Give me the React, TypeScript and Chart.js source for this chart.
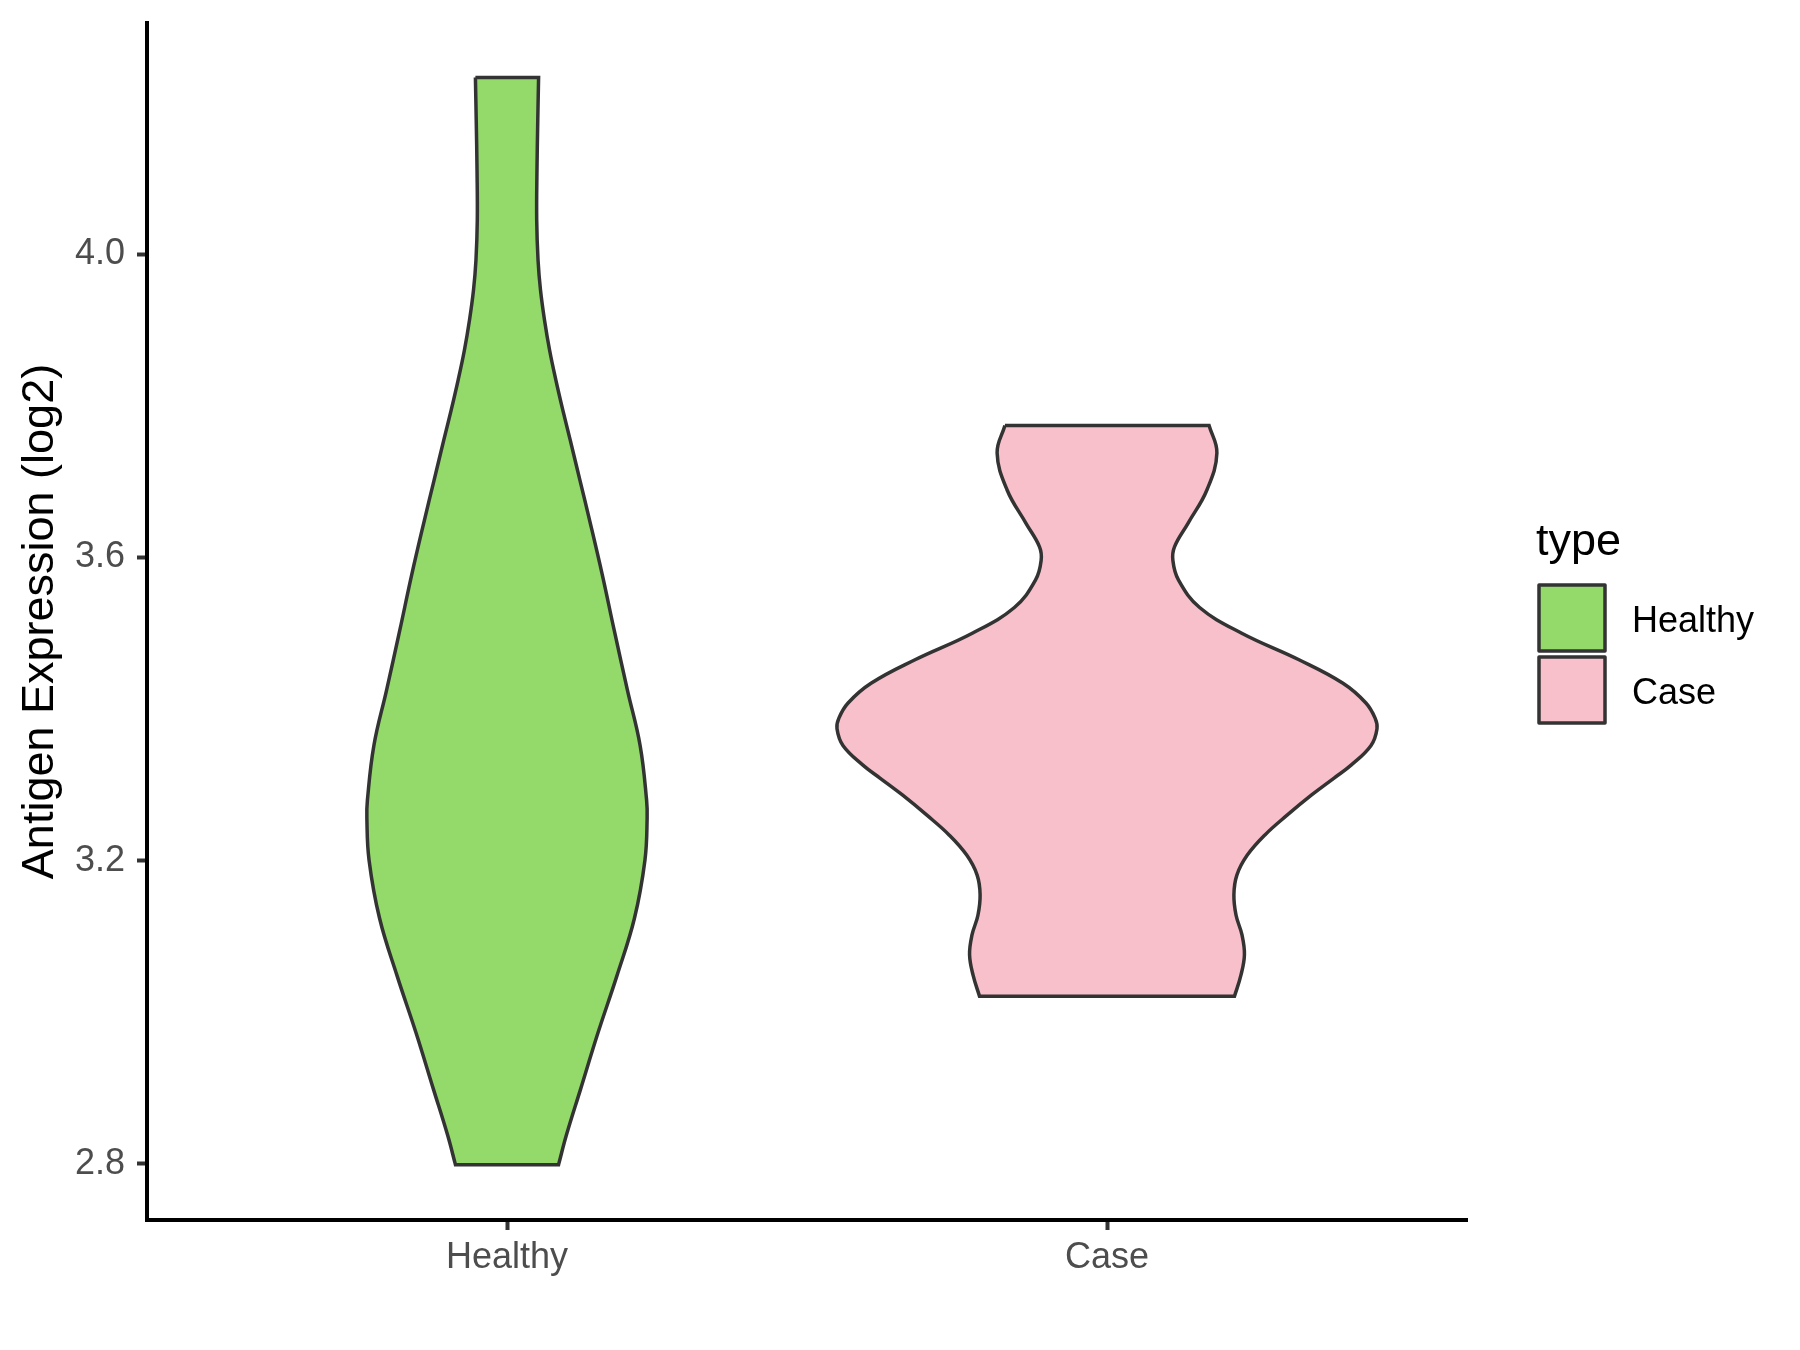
import React, { useEffect, useRef } from "react";
import { Chart, registerables } from "chart.js";

Chart.register(...registerables);

const categories = ["Healthy", "Case"];
const fillColors = ["#93DA6A", "#F8C0CB"];

// Healthy violin: expression values (top -> bottom) and relative density
const healthyY = [4.233, 4.177, 4.111, 4.045, 3.992, 3.953, 3.913, 3.873, 3.834, 3.794, 3.755, 3.702, 3.649, 3.577, 3.504, 3.425, 3.352, 3.28, 3.256, 3.201, 3.124, 3.048, 2.973, 2.898, 2.838, 2.799];
const healthyDensity = [0.117, 0.114, 0.111, 0.11, 0.115, 0.124, 0.139, 0.158, 0.181, 0.207, 0.234, 0.27, 0.306, 0.353, 0.397, 0.446, 0.493, 0.517, 0.519, 0.511, 0.472, 0.407, 0.337, 0.272, 0.22, 0.191];

// Case violin
const caseY = [3.774, 3.738, 3.689, 3.645, 3.614, 3.596, 3.57, 3.534, 3.5, 3.465, 3.434, 3.408, 3.388, 3.374, 3.352, 3.326, 3.309, 3.287, 3.26, 3.234, 3.207, 3.181, 3.155, 3.128, 3.102, 3.076, 3.049, 3.021];
const caseDensity = [0.378, 0.407, 0.37, 0.3, 0.25, 0.244, 0.265, 0.343, 0.499, 0.711, 0.874, 0.959, 0.993, 1.0, 0.978, 0.904, 0.841, 0.759, 0.667, 0.585, 0.519, 0.481, 0.47, 0.478, 0.5, 0.509, 0.496, 0.472];

const yTicks = [2.8, 3.2, 3.6, 4.0];

const FONT = '"Liberation Sans", Arial, Helvetica, sans-serif';
const HALF = 0.45;

function violinPoints(center: number, ys: number[], dens: number[]) {
  const n = ys.length;
  const left = ys.map((v, i) => ({ x: center - dens[i] * HALF, y: v }));
  const right = ys.map((v, i) => ({ x: center + dens[i] * HALF, y: v }));
  const pts: { x: number; y: number }[] = [];
  left.forEach((p) => pts.push(p));
  pts.push({ ...left[n - 1] });
  pts.push(right[n - 1]);
  pts.push({ ...right[n - 1] });
  for (let i = n - 2; i >= 0; i--) pts.push(right[i]);
  pts.push({ ...right[0] });
  pts.push({ ...left[0] });
  return pts;
}

const legendPlugin = {
  id: "customLegend",
  afterDraw(chart: any) {
    const ctx = chart.ctx;
    ctx.save();
    ctx.fillStyle = "#000000";
    ctx.font = `45px ${FONT}`;
    ctx.textBaseline = "alphabetic";
    ctx.textAlign = "left";
    ctx.fillText("type", 1536, 555);
    categories.forEach((name, i) => {
      const y0 = 585 + i * 72;
      ctx.fillStyle = fillColors[i];
      ctx.fillRect(1539, y0, 66, 66);
      ctx.strokeStyle = "#333333";
      ctx.lineWidth = 3.5;
      ctx.lineJoin = "round";
      ctx.strokeRect(1539, y0, 66, 66);
      ctx.fillStyle = "#000000";
      ctx.font = `36px ${FONT}`;
      ctx.textBaseline = "middle";
      ctx.fillText(name, 1632, y0 + 37);
    });
    ctx.restore();
  },
};

export default function App() {
  const ref = useRef<HTMLCanvasElement | null>(null);
  useEffect(() => {
    if (!ref.current) return;
    const mk = (i: number, ys: number[], ds: number[]) =>
      ({
        label: categories[i],
        data: violinPoints(i + 1, ys, ds),
        borderColor: "#333333",
        backgroundColor: fillColors[i],
        borderWidth: 3.5,
        fill: "shape",
        tension: 0.4,
        pointRadius: 0,
        pointHoverRadius: 0,
      } as any);
    const chart = new Chart(ref.current, {
      type: "line",
      data: {
        datasets: [mk(0, healthyY, healthyDensity), mk(1, caseY, caseDensity)],
      },
      options: {
        responsive: false,
        animation: false,
        devicePixelRatio: 1,
        layout: { padding: { left: 0, top: 23, right: 333, bottom: 0 } },
        plugins: {
          legend: { display: false },
          tooltip: { enabled: false },
        },
        scales: {
          x: {
            type: "linear",
            min: 0.4,
            max: 2.6,
            afterBuildTicks: (axis: any) => {
              axis.ticks = categories.map((_, i) => ({ value: i + 1 }));
            },
            afterFit: (scale: any) => {
              scale.height = 130;
              scale.paddingLeft = 0;
              scale.paddingRight = 0;
            },
            ticks: {
              callback: (v: any) => categories[Math.round(Number(v)) - 1] ?? "",
              color: "#4D4D4D",
              font: { family: FONT, size: 36 },
              padding: 6,
              maxRotation: 0,
              autoSkip: false,
            },
            grid: {
              drawOnChartArea: false,
              drawTicks: true,
              tickLength: 10,
              tickWidth: 4,
              tickColor: "#333333",
            },
            border: { display: true, color: "#000000", width: 4 },
          },
          y: {
            type: "linear",
            min: 2.726,
            max: 4.305,
            afterBuildTicks: (axis: any) => {
              axis.ticks = yTicks.map((v) => ({ value: v }));
            },
            afterFit: (scale: any) => {
              scale.width = 147;
              scale.paddingTop = 0;
              scale.paddingBottom = 0;
            },
            ticks: {
              callback: (v: any) => Number(v).toFixed(1),
              color: "#4D4D4D",
              font: { family: FONT, size: 36 },
              padding: 12,
              autoSkip: false,
            },
            grid: {
              drawOnChartArea: false,
              drawTicks: true,
              tickLength: 10,
              tickWidth: 4,
              tickColor: "#333333",
            },
            border: { display: true, color: "#000000", width: 4 },
            title: {
              display: true,
              text: "Antigen Expression (log2)",
              color: "#000000",
              font: { family: FONT, size: 45 },
              padding: { top: 14, bottom: 0 },
            },
          },
        },
      },
      plugins: [legendPlugin],
    });
    return () => chart.destroy();
  }, []);
  return (
    <div style={{ position: "absolute", left: 0, top: 0, width: 1800, height: 1350, background: "#fff" }}>
      <canvas ref={ref} width={1800} height={1350} />
    </div>
  );
}
